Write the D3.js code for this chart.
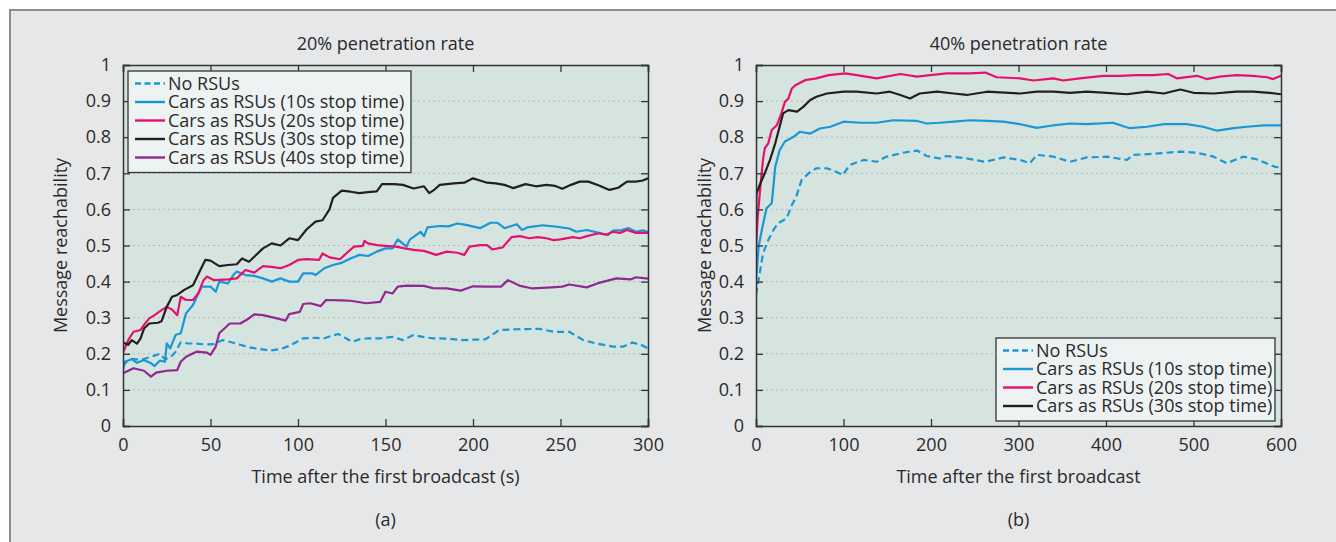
<!DOCTYPE html>
<html>
<head>
<meta charset="utf-8">
<script src="https://cdn.jsdelivr.net/npm/d3@7"></script>
<style>
  body { margin: 0; background: #fff; }
  svg text { font-family: "Open Sans", sans-serif; fill: #2a2a2a; font-size: 18px; }
</style>
</head>
<body>
<svg id="chart" width="1336" height="542"></svg>
<script>
// ---- panel (a): 20% penetration rate, [time (s), reachability] ----
const noRsu20 = [[0,0.166],[2,0.178],[5,0.186],[10,0.183],[15,0.19],[18,0.195],[21,0.2],[24,0.185],[27,0.19],[30,0.205],[33,0.232],[37,0.229],[42,0.228],[47,0.226],[52,0.227],[57,0.238],[62,0.232],[67,0.225],[72,0.218],[77,0.214],[84,0.209],[90,0.213],[95,0.222],[100,0.235],[103,0.243],[110,0.244],[115,0.243],[120,0.251],[123,0.255],[126,0.247],[131,0.233],[135,0.24],[140,0.243],[147,0.243],[154,0.247],[160,0.238],[166,0.252],[172,0.246],[177,0.243],[185,0.242],[194,0.238],[200,0.239],[207,0.24],[212,0.256],[215,0.266],[225,0.268],[238,0.269],[246,0.261],[255,0.261],[263,0.238],[270,0.229],[280,0.22],[286,0.22],[291,0.231],[296,0.225],[300,0.215]];

const stop10_20 = [[0,0.155],[1,0.178],[5,0.185],[8,0.175],[12,0.183],[16,0.174],[18,0.166],[21,0.181],[24,0.178],[25,0.229],[27,0.215],[30,0.252],[33,0.257],[36,0.312],[40,0.335],[43,0.367],[45,0.386],[50,0.386],[53,0.372],[55,0.40],[60,0.395],[63,0.418],[65,0.428],[70,0.418],[75,0.416],[80,0.409],[85,0.40],[90,0.409],[95,0.40],[100,0.40],[103,0.423],[108,0.423],[110,0.418],[115,0.437],[120,0.446],[125,0.452],[130,0.464],[135,0.474],[140,0.471],[145,0.483],[150,0.492],[154,0.492],[157,0.517],[162,0.497],[164,0.517],[170,0.538],[172,0.526],[174,0.55],[181,0.554],[186,0.553],[191,0.561],[196,0.557],[204,0.548],[210,0.563],[214,0.563],[218,0.548],[225,0.559],[228,0.543],[231,0.55],[240,0.556],[248,0.552],[255,0.547],[259,0.538],[265,0.543],[272,0.535],[277,0.529],[280,0.541],[285,0.543],[289,0.548],[293,0.538],[297,0.542],[300,0.538]];

const stop20_20 = [[0,0.203],[3,0.238],[6,0.261],[10,0.266],[12,0.28],[15,0.298],[18,0.307],[22,0.321],[25,0.33],[28,0.323],[31,0.307],[33,0.358],[36,0.349],[40,0.349],[43,0.367],[46,0.404],[48,0.414],[52,0.404],[60,0.406],[65,0.409],[70,0.432],[75,0.425],[80,0.443],[85,0.441],[90,0.437],[95,0.446],[100,0.46],[105,0.462],[112,0.46],[114,0.478],[118,0.467],[124,0.462],[128,0.48],[132,0.497],[137,0.499],[138,0.513],[140,0.506],[145,0.501],[150,0.499],[156,0.497],[161,0.492],[166,0.488],[172,0.485],[179,0.474],[185,0.483],[191,0.48],[195,0.474],[198,0.497],[204,0.501],[208,0.501],[211,0.489],[217,0.495],[222,0.523],[227,0.526],[232,0.52],[237,0.523],[242,0.52],[246,0.515],[250,0.517],[257,0.523],[261,0.52],[265,0.526],[272,0.534],[276,0.53],[280,0.538],[284,0.535],[288,0.543],[293,0.535],[300,0.535]];

const stop30_20 = [[0,0.231],[3,0.225],[5,0.238],[8,0.228],[10,0.242],[12,0.27],[15,0.284],[20,0.286],[22,0.29],[25,0.33],[28,0.358],[31,0.363],[35,0.377],[40,0.39],[44,0.43],[47,0.46],[50,0.458],[55,0.443],[60,0.446],[65,0.448],[68,0.464],[72,0.455],[75,0.469],[80,0.492],[85,0.506],[90,0.50],[95,0.52],[100,0.515],[105,0.545],[110,0.566],[114,0.57],[118,0.6],[120,0.632],[125,0.652],[130,0.649],[135,0.645],[140,0.648],[145,0.65],[148,0.67],[155,0.67],[160,0.668],[166,0.658],[172,0.664],[175,0.645],[178,0.655],[181,0.668],[189,0.672],[195,0.674],[200,0.686],[204,0.68],[208,0.674],[213,0.672],[218,0.668],[223,0.659],[230,0.67],[236,0.664],[242,0.668],[247,0.665],[251,0.657],[256,0.668],[261,0.677],[266,0.677],[272,0.666],[278,0.654],[283,0.66],[288,0.677],[293,0.677],[297,0.68],[300,0.686]];

const stop40_20 = [[0,0.146],[6,0.16],[12,0.153],[16,0.137],[19,0.148],[25,0.153],[31,0.155],[33,0.178],[36,0.192],[42,0.206],[48,0.203],[50,0.197],[53,0.22],[55,0.257],[61,0.284],[67,0.284],[71,0.295],[75,0.309],[80,0.307],[88,0.298],[93,0.292],[95,0.31],[101,0.316],[103,0.338],[107,0.34],[113,0.332],[116,0.349],[125,0.348],[130,0.347],[139,0.34],[147,0.344],[150,0.372],[154,0.367],[157,0.386],[162,0.389],[172,0.388],[177,0.382],[185,0.381],[193,0.375],[200,0.387],[207,0.386],[216,0.386],[220,0.404],[227,0.388],[234,0.381],[245,0.384],[251,0.386],[255,0.392],[265,0.384],[271,0.395],[278,0.404],[282,0.409],[290,0.406],[293,0.412],[300,0.408]];

// ---- panel (b): 40% penetration rate ----
const noRsu40 = [[0,0.363],[3,0.405],[8,0.478],[14,0.515],[20,0.543],[25,0.561],[35,0.575],[41,0.612],[46,0.635],[52,0.681],[62,0.704],[69,0.714],[81,0.714],[92,0.704],[99,0.695],[107,0.723],[123,0.737],[138,0.732],[149,0.746],[168,0.757],[184,0.763],[195,0.748],[210,0.741],[218,0.748],[241,0.741],[262,0.732],[283,0.744],[302,0.737],[313,0.728],[321,0.751],[340,0.746],[359,0.732],[378,0.744],[401,0.746],[424,0.737],[431,0.751],[454,0.754],[485,0.76],[504,0.757],[523,0.746],[538,0.728],[557,0.746],[572,0.739],[593,0.718],[600,0.716]];

const stop10_40 = [[0,0.40],[3,0.497],[7,0.547],[12,0.603],[18,0.617],[22,0.718],[27,0.764],[33,0.788],[43,0.801],[50,0.815],[62,0.81],[73,0.824],[85,0.829],[100,0.843],[119,0.84],[138,0.84],[157,0.847],[184,0.845],[195,0.838],[210,0.84],[226,0.843],[245,0.847],[264,0.845],[283,0.843],[302,0.836],[321,0.826],[340,0.833],[359,0.838],[378,0.836],[408,0.84],[427,0.825],[447,0.829],[466,0.836],[492,0.836],[511,0.829],[527,0.818],[546,0.825],[561,0.829],[580,0.833],[600,0.833]];

const stop20_40 = [[0,0.492],[2,0.58],[5,0.663],[8,0.737],[10,0.769],[14,0.783],[18,0.82],[24,0.834],[29,0.866],[33,0.898],[37,0.907],[41,0.935],[45,0.944],[56,0.958],[69,0.963],[83,0.972],[102,0.977],[115,0.972],[138,0.963],[165,0.975],[184,0.968],[199,0.972],[218,0.977],[245,0.977],[262,0.979],[275,0.966],[302,0.963],[317,0.957],[340,0.963],[351,0.957],[370,0.963],[397,0.97],[416,0.97],[435,0.972],[454,0.972],[471,0.975],[481,0.963],[504,0.97],[515,0.961],[530,0.968],[549,0.972],[568,0.97],[584,0.966],[591,0.961],[600,0.97]];

const stop30_40 = [[0,0.56],[0.5,0.644],[5,0.672],[10,0.70],[16,0.737],[22,0.783],[26,0.82],[31,0.866],[37,0.875],[47,0.871],[54,0.884],[62,0.903],[69,0.912],[81,0.921],[100,0.926],[115,0.926],[138,0.921],[153,0.926],[165,0.917],[176,0.907],[187,0.921],[207,0.926],[226,0.921],[241,0.917],[264,0.926],[302,0.921],[321,0.926],[340,0.926],[359,0.923],[378,0.926],[401,0.923],[424,0.919],[447,0.926],[466,0.921],[485,0.932],[500,0.923],[523,0.921],[549,0.926],[568,0.926],[587,0.923],[600,0.919]];

const seriesNames = ["No RSUs", "Cars as RSUs (10s stop time)", "Cars as RSUs (20s stop time)",
                     "Cars as RSUs (30s stop time)", "Cars as RSUs (40s stop time)"];
const seriesColors = ["#1b96d6", "#1b96d6", "#e8106e", "#231f20", "#92278f"];

const svg = d3.select("#chart");

// outer figure frame
svg.append("rect")
    .attr("x", 10).attr("y", 10)
    .attr("width", 1340).attr("height", 540)
    .style("fill", "#e6e7e9")
    .style("stroke", "#8c8c8c")
    .style("stroke-width", 2);

function drawPanel(opts) {
    let x = d3.scaleLinear().domain([0, opts.xMax]).range([opts.left, opts.right]);
    let y = d3.scaleLinear().domain([0, 1]).range([426, 65]);
    let g = svg.append("g");
    let w = opts.right - opts.left;

    g.append("rect")
        .attr("x", opts.left).attr("y", y(1))
        .attr("width", w).attr("height", y(0) - y(1))
        .style("fill", "#d6e4e0");

    // dotted horizontal grid
    g.selectAll(".grid")
        .data(y.ticks(10).filter(d => d > 0 && d < 1))
        .join("line")
        .attr("x1", opts.left).attr("x2", opts.right)
        .attr("y1", d => y(d)).attr("y2", d => y(d))
        .style("stroke", "#b4b9b7")
        .style("stroke-width", 1)
        .style("stroke-dasharray", "2,3");

    let clipId = "clip" + opts.id;
    svg.append("clipPath").attr("id", clipId)
        .append("rect")
        .attr("x", opts.left).attr("y", y(1) - 2)
        .attr("width", w).attr("height", y(0) - y(1) + 2);

    let line = d3.line().x(d => x(d[0])).y(d => y(d[1]));

    g.append("g").attr("clip-path", "url(#" + clipId + ")")
        .selectAll("path")
        .data(opts.series)
        .join("path")
        .attr("d", d => line(d.data))
        .style("fill", "none")
        .style("stroke", d => d.color)
        .style("stroke-width", 2.2)
        .style("stroke-linejoin", "round")
        .style("stroke-dasharray", d => d.dash ? "7,4" : null);

    // axes, ticks pointing inward on all four sides
    let fmt = d3.format(".1~f");
    let axes = [
        d3.axisLeft(y).ticks(10).tickSize(-7).tickPadding(12).tickFormat(fmt),
        d3.axisRight(y).ticks(10).tickSize(-7).tickFormat(""),
        d3.axisBottom(x).ticks(6).tickSize(-7).tickPadding(12),
        d3.axisTop(x).ticks(6).tickSize(-7).tickFormat("")
    ];
    let shifts = [[opts.left, 0], [opts.right, 0], [0, y(0)], [0, y(1)]];
    axes.forEach((ax, i) => {
        let a = g.append("g")
            .attr("transform", "translate(" + shifts[i][0] + "," + shifts[i][1] + ")")
            .call(ax);
        a.select(".domain").style("stroke", "#333").style("stroke-width", 1.5);
        a.selectAll(".tick line").style("stroke", "#333").style("stroke-width", 1.3);
        a.selectAll("text").style("font-size", "18px").style("fill", "#2a2a2a")
            .style("font-family", '"Open Sans", sans-serif');
    });

    let cx = (opts.left + opts.right) / 2;
    g.append("text").attr("x", cx).attr("y", 50)
        .attr("text-anchor", "middle").text(opts.title);
    g.append("text").attr("x", cx).attr("y", 483)
        .attr("text-anchor", "middle").text(opts.xTitle);
    g.append("text").attr("x", cx).attr("y", 526)
        .attr("text-anchor", "middle").text(opts.caption);
    g.append("text")
        .attr("transform", "translate(" + opts.yTitleX + "," + (y(0) + y(1)) / 2 + ") rotate(-90)")
        .attr("text-anchor", "middle").text("Message reachability");

    // legend
    let lg = g.append("g").attr("transform", "translate(" + opts.legend[0] + "," + opts.legend[1] + ")");
    let rowH = 18.5;
    lg.append("rect")
        .attr("width", opts.legendW).attr("height", opts.series.length * rowH + 9)
        .style("fill", "#edf2f2")
        .style("stroke", "#333").style("stroke-width", 1.3);
    let rows = lg.selectAll(".row").data(opts.series).join("g")
        .attr("transform", (d, i) => "translate(0," + (12.5 + i * rowH) + ")");
    rows.append("line")
        .attr("x1", 7).attr("x2", 37)
        .style("stroke", d => d.color).style("stroke-width", 2.4)
        .style("stroke-dasharray", d => d.dash ? "6,3.5" : null);
    rows.append("text")
        .attr("x", 40).attr("dy", "0.36em")
        .text(d => d.name);
}

function makeSeries(list) {
    return list.map((data, i) => ({
        name: seriesNames[i], data: data, color: seriesColors[i], dash: i === 0
    }));
}

drawPanel({
    id: "a", left: 123, right: 648, xMax: 300,
    title: "20% penetration rate",
    xTitle: "Time after the first broadcast (s)",
    caption: "(a)", yTitleX: 67,
    legend: [128, 71], legendW: 283,
    series: makeSeries([noRsu20, stop10_20, stop20_20, stop30_20, stop40_20])
});

drawPanel({
    id: "b", left: 756, right: 1281, xMax: 600,
    title: "40% penetration rate",
    xTitle: "Time after the first broadcast",
    caption: "(b)", yTitleX: 711,
    legend: [996, 338], legendW: 279,
    series: makeSeries([noRsu40, stop10_40, stop20_40, stop30_40])
});
</script>
</body>
</html>
